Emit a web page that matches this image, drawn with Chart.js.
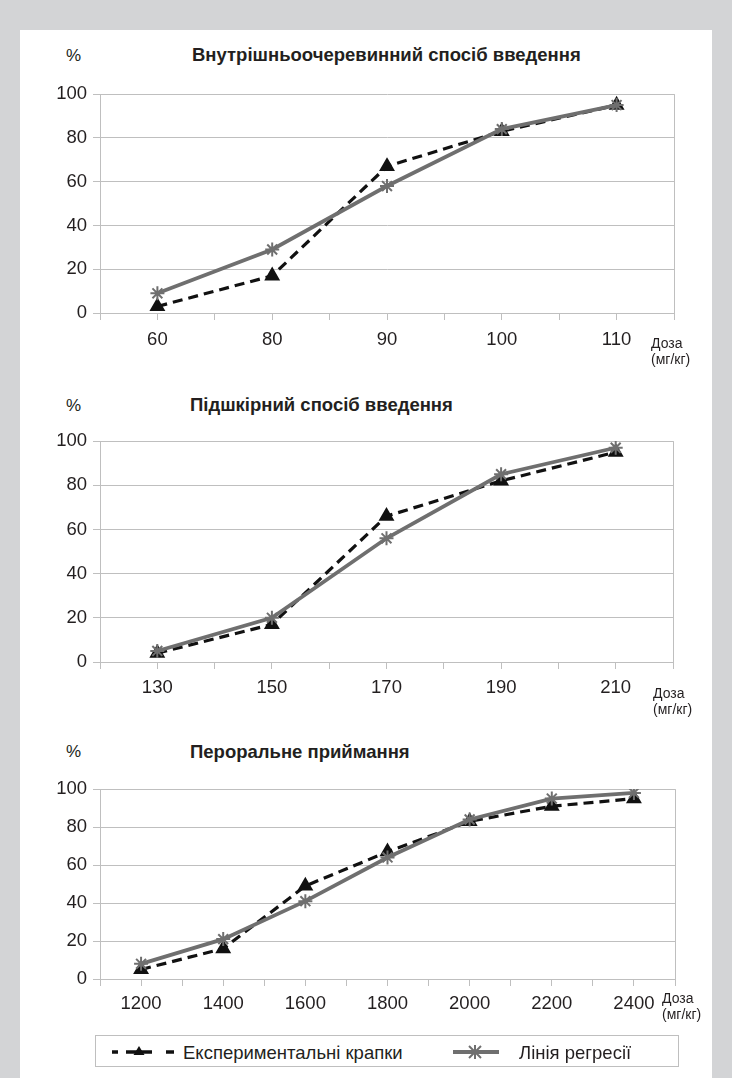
<!DOCTYPE html>
<html>
<head>
<meta charset="utf-8">
<script src="https://cdn.jsdelivr.net/npm/chart.js@4"></script>
<style>
  body { margin: 0; background: #d3d4d6; font-family: "Liberation Sans", Arial, sans-serif; color: #231f20; }
  #page { position: relative; width: 732px; height: 1078px; overflow: hidden; }
  #panel { position: absolute; left: 20px; top: 30px; width: 692px; height: 1048px; background: #fff; }
  canvas { position: absolute; left: 0; }
  .t { position: absolute; white-space: nowrap; line-height: 1; }
  .pct { font-size: 17px; }
  .title { font-size: 18.5px; font-weight: bold; }
  .dose { font-size: 14px; line-height: 16px; }
  #legend { position: absolute; left: 95px; top: 1035px; width: 582px; height: 30px; border: 1px solid #bfbfbf; background: #fff; }
  #legend svg { position: absolute; top: 0; }
  #legend span { position: absolute; top: 6px; font-size: 18.5px; }
</style>
</head>
<body>
<div id="page">
  <div id="panel"></div>

  <div class="t pct" style="left:66px;top:47px">%</div>
  <div class="t title" style="left:192px;top:46px">Внутрішньоочеревинний спосіб введення</div>
  <canvas id="c1" width="732" height="286" style="top:77px"></canvas>
  <div class="t dose" style="left:651px;top:335px">Доза<br>(мг/кг)</div>

  <div class="t pct" style="left:66px;top:397px">%</div>
  <div class="t title" style="left:190px;top:396px">Підшкірний спосіб введення</div>
  <canvas id="c2" width="732" height="288" style="top:424px"></canvas>
  <div class="t dose" style="left:653px;top:685px">Доза<br>(мг/кг)</div>

  <div class="t pct" style="left:66px;top:743px">%</div>
  <div class="t title" style="left:190px;top:743px">Пероральне приймання</div>
  <canvas id="c3" width="732" height="257" style="top:772px"></canvas>
  <div class="t dose" style="left:662px;top:990px">Доза<br>(мг/кг)</div>

  <div id="legend">
    <svg width="90" height="30" style="left:12px">
      <line x1="4" y1="16" x2="10" y2="16" stroke="#111" stroke-width="3.5"/>
      <line x1="18" y1="16" x2="44" y2="16" stroke="#111" stroke-width="3.5"/>
      <polygon points="31,10 36.5,19 25.5,19" fill="#111"/>
      <line x1="58" y1="16" x2="66" y2="16" stroke="#111" stroke-width="3.5"/>
    </svg>
    <span style="left:87px">Експериментальні крапки</span>
    <svg width="70" height="30" style="left:356px">
      <line x1="1" y1="16" x2="47" y2="16" stroke="#6f6f6f" stroke-width="4"/>
      <g stroke="#6f6f6f" stroke-width="2">
        <line x1="17" y1="10" x2="29" y2="22"/>
        <line x1="29" y1="10" x2="17" y2="22"/>
        <line x1="23" y1="9" x2="23" y2="23"/>
      </g>
    </svg>
    <span style="left:423px">Лінія регресії</span>
  </div>
</div>

<script>
// Внутрішньоочеревинний спосіб введення
const doses1 = ['60', '80', '90', '100', '110'];
const exp1 = [3, 17, 67, 83, 95];
const reg1 = [9, 29, 58, 84, 95];

// Підшкірний спосіб введення
const doses2 = ['130', '150', '170', '190', '210'];
const exp2 = [4, 17, 66, 82, 95];
const reg2 = [5, 20, 56, 85, 97];

// Пероральне приймання
const doses3 = ['1200', '1400', '1600', '1800', '2000', '2200', '2400'];
const exp3 = [5, 16, 49, 67, 83, 91, 95];
const reg3 = [8, 21, 41, 64, 84, 95, 98];

const yTicks = [0, 20, 40, 60, 80, 100];

const gridColor = '#bfbfbf';
const textColor = '#231f20';
const font = { family: '"Liberation Sans", Arial, sans-serif', size: 18.5 };

// правая рамка области построения
const borderPlugin = {
  id: 'rightBorder',
  afterDraw(chart) {
    const a = chart.chartArea, ctx = chart.ctx;
    ctx.save();
    ctx.strokeStyle = gridColor;
    ctx.lineWidth = 1;
    ctx.beginPath();
    ctx.moveTo(Math.round(a.right) + 0.5, a.top);
    ctx.lineTo(Math.round(a.right) + 0.5, a.bottom);
    ctx.stroke();
    ctx.restore();
  }
};

function makeChart(id, doses, exp, reg, plotRight, xHeight, labelPad) {
  const n = doses.length;
  const toPts = arr => arr.map((v, i) => ({ x: i, y: v }));
  const ticksX = [];
  for (let i = 0; i <= 2 * n; i++) ticksX.push(-0.5 + i * 0.5);

  new Chart(document.getElementById(id), {
    type: 'line',
    data: {
      datasets: [{
        label: 'Експериментальні крапки',
        data: toPts(exp),
        borderColor: '#111',
        borderWidth: 3.2,
        borderDash: [10, 6],
        pointStyle: 'triangle',
        pointRadius: 6,
        pointBackgroundColor: '#111',
        pointBorderColor: '#111',
        order: 1
      }, {
        label: 'Лінія регресії',
        data: toPts(reg),
        borderColor: '#6f6f6f',
        borderWidth: 3.8,
        pointStyle: 'star',
        pointRadius: 7,
        pointBorderColor: '#6f6f6f',
        pointBorderWidth: 2,
        order: 0
      }]
    },
    options: {
      responsive: false,
      animation: false,
      devicePixelRatio: 1,
      layout: { padding: { top: 0, right: 732 - plotRight, left: 0, bottom: 0 } },
      plugins: { legend: { display: false }, tooltip: { enabled: false } },
      scales: {
        x: {
          type: 'linear',
          min: -0.5,
          max: n - 0.5,
          afterBuildTicks: s => { s.ticks = ticksX.map(v => ({ value: v })); },
          afterFit: s => { s.height = xHeight; },
          ticks: {
            autoSkip: false,
            maxRotation: 0,
            padding: labelPad,
            color: textColor,
            font: font,
            callback: v => Number.isInteger(v) ? doses[v] : ''
          },
          grid: { drawOnChartArea: false, tickLength: 7, color: gridColor },
          border: { color: gridColor }
        },
        y: {
          min: 0,
          max: 100,
          afterBuildTicks: s => { s.ticks = yTicks.map(v => ({ value: v })); },
          afterFit: s => { s.width = 100; },
          ticks: { padding: 6, color: textColor, font: font },
          grid: { tickLength: 7, color: gridColor },
          border: { color: gridColor }
        }
      }
    },
    plugins: [borderPlugin]
  });
}

makeChart('c1', doses1, exp1, reg1, 674, 50, 9);
makeChart('c2', doses2, exp2, reg2, 673, 50, 8);
makeChart('c3', doses3, exp3, reg3, 675, 50, 7);
</script>
</body>
</html>
